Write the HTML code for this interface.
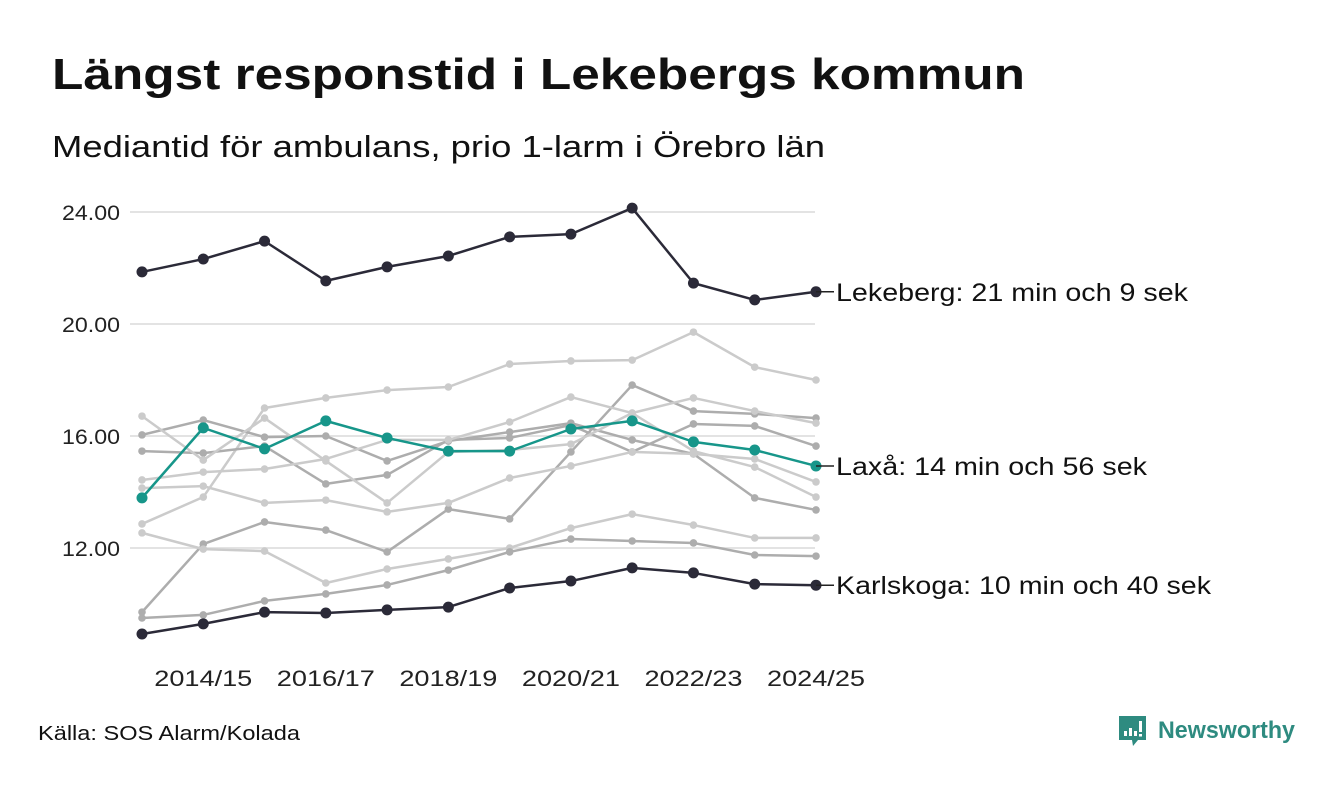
<!DOCTYPE html>
<html><head><meta charset="utf-8"><style>
body{margin:0;background:#fff;width:1340px;height:780px;overflow:hidden;font-family:"Liberation Sans",sans-serif;}
</style></head><body>
<svg width="1340" height="780" xmlns="http://www.w3.org/2000/svg">
<text x="52" y="89" font-size="44" font-weight="bold" fill="#111" textLength="973" lengthAdjust="spacingAndGlyphs">Längst responstid i Lekebergs kommun</text>
<text x="52" y="157" font-size="31" fill="#111" textLength="773" lengthAdjust="spacingAndGlyphs">Mediantid för ambulans, prio 1-larm i Örebro län</text>
<g id="grid"></g><g id="gray"></g><g id="main"></g><g id="xax"></g>
<text x="38" y="740" font-size="20" fill="#111" textLength="262" lengthAdjust="spacingAndGlyphs">Källa: SOS Alarm/Kolada</text>
<g>
<path d="M1119 716 h27 v24 h-8 l-5 6 l-1 -6 h-13 z" fill="#2e8b80"/>
<rect x="1124" y="731" width="3" height="5" fill="#fff"/><rect x="1129" y="728" width="3" height="8" fill="#fff"/><rect x="1134" y="731" width="3" height="5" fill="#fff"/><rect x="1139" y="721" width="3" height="11" fill="#fff"/><rect x="1139" y="734" width="3" height="2.5" fill="#fff"/>
<text x="1158" y="738" font-size="24" font-weight="bold" fill="#2e8b80" textLength="137" lengthAdjust="spacingAndGlyphs">Newsworthy</text>
</g>
</svg>
<script>
const seasons=["2013/14","2014/15","2015/16","2016/17","2017/18","2018/19","2019/20","2020/21","2021/22","2022/23","2023/24","2024/25"];
const yTicks=[12,16,20,24];
const lekeberg=[21.86,22.32,22.96,21.54,22.04,22.43,23.11,23.21,24.14,21.46,20.86,21.15];
const laxa=[13.79,16.29,15.54,16.54,15.93,15.46,15.46,16.25,16.54,15.79,15.5,14.93];
const karlskoga=[8.93,9.29,9.71,9.68,9.79,9.89,10.57,10.82,11.29,11.11,10.71,10.67];
const g1=[12.86,13.82,17.0,17.36,17.64,17.75,18.57,18.68,18.71,19.71,18.46,18.0];
const g2=[9.71,12.14,12.93,12.64,11.86,13.39,13.04,15.43,17.82,16.89,16.79,16.64];
const g3=[16.04,16.57,15.96,16.0,15.11,15.82,16.14,16.46,15.86,15.36,13.79,13.36];
const g4=[15.46,15.39,15.64,14.29,14.61,15.86,15.93,16.39,15.43,16.43,16.36,15.64];
const g5=[16.71,15.14,16.64,15.11,13.61,15.43,15.5,15.71,16.82,17.36,16.89,16.46];
const g6=[14.43,14.71,14.82,15.18,15.86,15.86,16.5,17.39,16.82,15.46,14.89,13.82];
const g7=[14.14,14.21,13.61,13.71,13.29,13.61,14.5,14.93,15.43,15.36,15.18,14.36];
const g8=[12.54,11.96,11.89,10.75,11.25,11.61,12.0,12.71,13.21,12.82,12.36,12.36];
const g9=[9.5,9.61,10.11,10.36,10.68,11.21,11.86,12.32,12.25,12.18,11.75,11.71];
const grays=[[g1,"#cbcbcb"],[g2,"#adadad"],[g3,"#adadad"],[g4,"#adadad"],[g5,"#cbcbcb"],[g6,"#cbcbcb"],[g7,"#cbcbcb"],[g8,"#cbcbcb"],[g9,"#adadad"]];
const NS="http://www.w3.org/2000/svg";
const x=i=>142+i*(816-142)/(seasons.length-1);
const y=v=>212+(24-v)*28;
function mk(t,p,a){const e=document.createElementNS(NS,t);for(const k in a)e.setAttribute(k,a[k]);p.appendChild(e);return e;}
const grid=document.getElementById('grid');
yTicks.forEach(t=>{
 const l=mk('line',grid,{x1:130,x2:815,y1:y(t),y2:y(t),stroke:"#e3e3e3","stroke-width":2});
 
 
 const tx=mk('text',grid,{x:120,y:y(t)+8,"font-size":21,fill:"#222","text-anchor":"end",textLength:58,lengthAdjust:"spacingAndGlyphs"});
 tx.textContent=t.toFixed(2);
 
 
});
const xax=document.getElementById('xax');
seasons.forEach((s,i)=>{if(i%2==1){
 const tx=mk('text',xax,{x:x(i)-49,y:686,"font-size":22,fill:"#222",textLength:98,lengthAdjust:"spacingAndGlyphs"});
 tx.textContent=s;
 
 
}});
function series(par,data,col,w,r,name){
 const g=mk('g',par,{});
 
 
 mk('polyline',g,{points:data.map((v,i)=>x(i)+","+y(v)).join(" "),fill:"none",stroke:col,"stroke-width":w,"stroke-linejoin":"round"});
 data.forEach((v,i)=>{const c=mk('circle',g,{cx:x(i),cy:y(v),r:r,fill:col});
  
  });
}
const gg=document.getElementById('gray');
grays.forEach((s,i)=>series(gg,s[0],s[1],2.5,3.8,'gray-line-'+(i+1)));
const mm=document.getElementById('main');
const mains=[[lekeberg,"#2b2a38","Lekeberg: 21 min och 9 sek","lekeberg-line",352],[laxa,"#17968a","Laxå: 14 min och 56 sek","laxa-line",311],[karlskoga,"#2b2a38","Karlskoga: 10 min och 40 sek","karlskoga-line",375]];
mains.forEach(m=>{
 series(mm,m[0],m[1],2.5,5.5,m[3]);
 const last=m[0][m[0].length-1];
 mk('line',mm,{x1:x(11),x2:x(11)+18,y1:y(last),y2:y(last),stroke:"#222","stroke-width":1.5});
 const tx=mk('text',mm,{x:x(11)+20,y:y(last)+9,"font-size":25,fill:"#111",textLength:m[4],lengthAdjust:"spacingAndGlyphs"});
 tx.textContent=m[2];
 
 
});
</script>
</body></html>
